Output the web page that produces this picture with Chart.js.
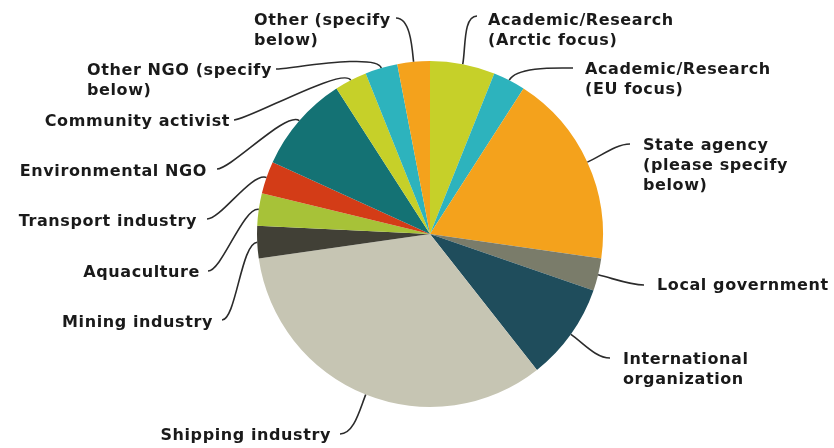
<!DOCTYPE html>
<html>
<head>
<meta charset="utf-8">
<script src="https://cdn.jsdelivr.net/npm/chart.js@4.4.1/dist/chart.umd.min.js"></script>
<style>
  html, body { margin: 0; padding: 0; background: #fff; }
  #wrap { width: 834px; height: 448px; }
</style>
</head>
<body>
<div id="wrap"><canvas id="grafico" width="834" height="448"></canvas></div>
<script>
const categories = [
  'Academic/Research (Arctic focus)',
  'Academic/Research (EU focus)',
  'State agency (please specify below)',
  'Local government',
  'International organization',
  'Shipping industry',
  'Mining industry',
  'Aquaculture',
  'Transport industry',
  'Environmental NGO',
  'Community activist',
  'Other NGO (specify below)',
  'Other (specify below)'
];
const counts = [2, 1, 6, 1, 3, 11, 1, 1, 1, 3, 1, 1, 1];
const colors = [
  '#c6d029', '#2db3bd', '#f4a21c', '#7a7c6a', '#1f4d5c', '#c6c5b3', '#414036',
  '#a7c238', '#d33c17', '#147274', '#c6d029', '#2db3bd', '#f4a21c'
];

// where each callout text sits and where its leader line ends
const callouts = [
  { x: 488, y: 21, align: 'left', end: [477, 16], wrap: 205 },
  { x: 585, y: 70, align: 'left', end: [573, 68], wrap: 205 },
  { x: 643, y: 146, align: 'left', end: [630, 144], wrap: 165 },
  { x: 657, y: 286, align: 'left', end: [644, 285], wrap: 400 },
  { x: 623, y: 360, align: 'left', end: [610, 358], wrap: 145 },
  { x: 331, y: 436, align: 'right', end: [340, 434], wrap: 400 },
  { x: 213, y: 323, align: 'right', end: [222, 320], wrap: 400 },
  { x: 200, y: 273, align: 'right', end: [208, 271], wrap: 400 },
  { x: 197, y: 222, align: 'right', end: [207, 219], wrap: 400 },
  { x: 207, y: 172, align: 'right', end: [217, 169], wrap: 400 },
  { x: 230, y: 122, align: 'right', end: [234, 120], wrap: 400 },
  { x: 87, y: 71, align: 'left', end: [276, 69], wrap: 205 },
  { x: 254, y: 21, align: 'left', end: [396, 18], wrap: 155 }
];

function quebrarTexto(ctx, texto, largura) {
  const palavras = texto.split(' ');
  const linhas = [];
  let atual = '';
  palavras.forEach(p => {
    const teste = atual ? atual + ' ' + p : p;
    if (atual && ctx.measureText(teste).width > largura) {
      linhas.push(atual);
      atual = p;
    } else {
      atual = teste;
    }
  });
  if (atual) linhas.push(atual);
  return linhas;
}

const calloutPlugin = {
  id: 'callouts',
  afterDraw(chart) {
    const ctx = chart.ctx;
    const arcs = chart.getDatasetMeta(0).data;
    ctx.save();
    ctx.font = 'bold 16px "DejaVu Sans"';
    ctx.letterSpacing = '0.6px';
    ctx.textBaseline = 'middle';
    arcs.forEach((arc, i) => {
      const c = callouts[i];
      const mid = (arc.startAngle + arc.endAngle) / 2;
      const dx = Math.cos(mid), dy = Math.sin(mid);
      const x0 = arc.x + arc.outerRadius * dx;
      const y0 = arc.y + arc.outerRadius * dy;
      const [x3, y3] = c.end;
      const lado = x3 < x0 ? 1 : -1;

      // linha de chamada
      ctx.beginPath();
      ctx.strokeStyle = '#2b2b2b';
      ctx.lineWidth = 1.6;
      ctx.moveTo(x0, y0);
      ctx.bezierCurveTo(x0 + dx * 16, y0 + dy * 16, x3 + lado * 14, y3, x3, y3);
      ctx.stroke();

      // texto
      ctx.fillStyle = '#1a1a1a';
      ctx.textAlign = c.align;
      const linhas = quebrarTexto(ctx, categories[i], c.wrap);
      linhas.forEach((l, k) => ctx.fillText(l, c.x, c.y + k * 20));
    });
    ctx.restore();
  }
};

const ctx = document.getElementById('grafico').getContext('2d');
new Chart(ctx, {
  type: 'pie',
  data: {
    labels: categories,
    datasets: [{
      data: counts,
      backgroundColor: colors,
      borderWidth: 0,
      hoverOffset: 0
    }]
  },
  options: {
    responsive: false,
    animation: false,
    layout: { padding: { top: 61, bottom: 41, left: 200, right: 174 } },
    plugins: {
      legend: { display: false },
      tooltip: { enabled: false },
      title: { display: false }
    }
  },
  plugins: [calloutPlugin]
});
</script>
</body>
</html>
